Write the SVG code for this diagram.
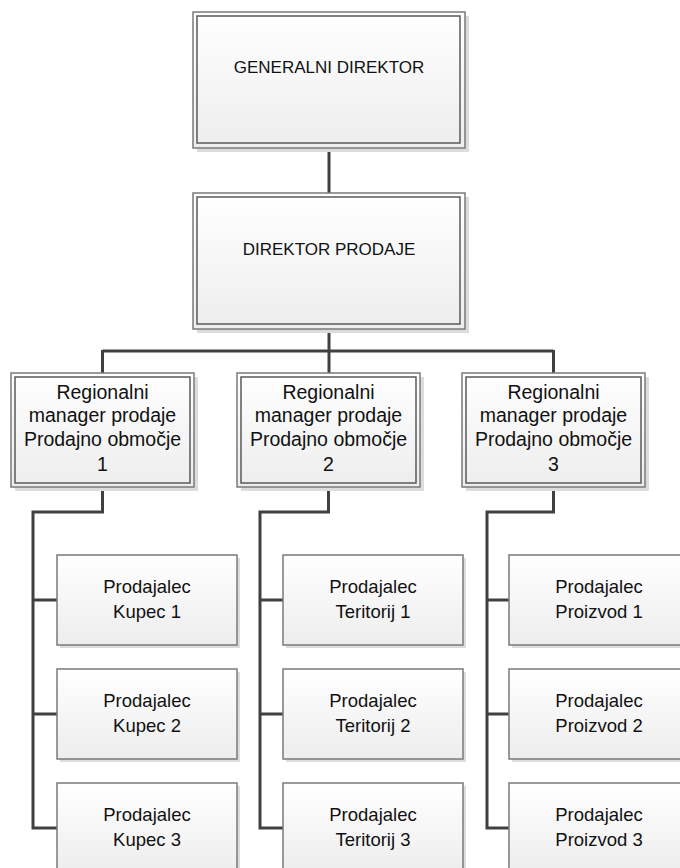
<svg xmlns="http://www.w3.org/2000/svg" width="680" height="868" viewBox="0 0 680 868">
  <defs>
    <linearGradient id="fillGrad" x1="0" y1="0" x2="0" y2="1">
      <stop offset="0" stop-color="#ffffff"/>
      <stop offset="1" stop-color="#ededed"/>
    </linearGradient>
    <style>
      .shadow { fill: #dcdcdc; }
      .outer { fill: url(#fillGrad); stroke: #7a7a7a; stroke-width: 1.5; }
      .inner { fill: none; stroke: #5a5a5a; stroke-width: 1.5; }
      .single { fill: url(#fillGrad); stroke: #7a7a7a; stroke-width: 1.5; }
      .conn { fill: none; stroke: #404040; stroke-width: 3; }
      .t { font-family: "Liberation Sans", Arial, sans-serif; fill: #111111; text-anchor: middle; }
      .t17 { font-size: 17px; }
      .t20 { font-size: 19.5px; }
      .t19 { font-size: 18.5px; }
    </style>
  </defs>
  <rect width="680" height="868" fill="#ffffff"/>

  <!-- connectors -->
  <g id="connectors">
    <path class="conn" d="M329 148 V193"/>
    <path class="conn" d="M329 329 V373"/>
    <path class="conn" d="M102.5 351 H553.5 M102.5 350 V373 M553.5 350 V373"/>
    <!-- column 1 -->
    <path class="conn" d="M102.5 487 V512 H33 V828 H57 M33 600 H57 M33 714 H57"/>
    <!-- column 2 -->
    <path class="conn" d="M328.5 487 V512 H260 V828 H283 M260 600 H283 M260 714 H283"/>
    <!-- column 3 -->
    <path class="conn" d="M553.5 487 V512 H487 V828 H509 M487 600 H509 M487 714 H509"/>
  </g>

  <!-- top level -->
  <g id="generalni-direktor">
    <rect class="shadow" x="197" y="16" width="272" height="136"/>
    <rect class="outer" x="193" y="12" width="272" height="136"/>
    <rect class="inner" x="197" y="16" width="263" height="127"/>
    <text class="t t17" x="329" y="73">GENERALNI DIREKTOR</text>
  </g>

  <g id="direktor-prodaje">
    <rect class="shadow" x="197" y="197" width="272" height="136"/>
    <rect class="outer" x="193" y="193" width="272" height="136"/>
    <rect class="inner" x="197" y="197" width="263" height="127"/>
    <text class="t t17" x="329" y="255">DIREKTOR PRODAJE</text>
  </g>

  <!-- regional managers -->
  <g id="regional-1">
    <rect class="shadow" x="15" y="377" width="183" height="114"/>
    <rect class="outer" x="11" y="373" width="183" height="114"/>
    <rect class="inner" x="15" y="377" width="175" height="106"/>
    <text class="t t20" x="102.5" y="399">Regionalni</text>
    <text class="t t20" x="102.5" y="422">manager prodaje</text>
    <text class="t t20" x="102.5" y="446">Prodajno območje</text>
    <text class="t t20" x="102.5" y="471">1</text>
  </g>

  <g id="regional-2">
    <rect class="shadow" x="241" y="377" width="183" height="114"/>
    <rect class="outer" x="237" y="373" width="183" height="114"/>
    <rect class="inner" x="241" y="377" width="175" height="106"/>
    <text class="t t20" x="328.5" y="399">Regionalni</text>
    <text class="t t20" x="328.5" y="422">manager prodaje</text>
    <text class="t t20" x="328.5" y="446">Prodajno območje</text>
    <text class="t t20" x="328.5" y="471">2</text>
  </g>

  <g id="regional-3">
    <rect class="shadow" x="466" y="377" width="183" height="114"/>
    <rect class="outer" x="462" y="373" width="183" height="114"/>
    <rect class="inner" x="466" y="377" width="175" height="106"/>
    <text class="t t20" x="553.5" y="399">Regionalni</text>
    <text class="t t20" x="553.5" y="422">manager prodaje</text>
    <text class="t t20" x="553.5" y="446">Prodajno območje</text>
    <text class="t t20" x="553.5" y="471">3</text>
  </g>

  <!-- sales representatives, column 1 -->
  <g id="kupec-1">
    <rect class="shadow" x="60" y="558" width="180" height="90"/>
    <rect class="single" x="57" y="555" width="180" height="90"/>
    <text class="t t19" x="147" y="593">Prodajalec</text>
    <text class="t t19" x="147" y="618">Kupec 1</text>
  </g>
  <g id="kupec-2">
    <rect class="shadow" x="60" y="672" width="180" height="90"/>
    <rect class="single" x="57" y="669" width="180" height="90"/>
    <text class="t t19" x="147" y="707">Prodajalec</text>
    <text class="t t19" x="147" y="732">Kupec 2</text>
  </g>
  <g id="kupec-3">
    <rect class="shadow" x="60" y="786" width="180" height="90"/>
    <rect class="single" x="57" y="783" width="180" height="90"/>
    <text class="t t19" x="147" y="821">Prodajalec</text>
    <text class="t t19" x="147" y="846">Kupec 3</text>
  </g>

  <!-- sales representatives, column 2 -->
  <g id="teritorij-1">
    <rect class="shadow" x="286" y="558" width="180" height="90"/>
    <rect class="single" x="283" y="555" width="180" height="90"/>
    <text class="t t19" x="373" y="593">Prodajalec</text>
    <text class="t t19" x="373" y="618">Teritorij 1</text>
  </g>
  <g id="teritorij-2">
    <rect class="shadow" x="286" y="672" width="180" height="90"/>
    <rect class="single" x="283" y="669" width="180" height="90"/>
    <text class="t t19" x="373" y="707">Prodajalec</text>
    <text class="t t19" x="373" y="732">Teritorij 2</text>
  </g>
  <g id="teritorij-3">
    <rect class="shadow" x="286" y="786" width="180" height="90"/>
    <rect class="single" x="283" y="783" width="180" height="90"/>
    <text class="t t19" x="373" y="821">Prodajalec</text>
    <text class="t t19" x="373" y="846">Teritorij 3</text>
  </g>

  <!-- sales representatives, column 3 -->
  <g id="proizvod-1">
    <rect class="shadow" x="512" y="558" width="180" height="90"/>
    <rect class="single" x="509" y="555" width="180" height="90"/>
    <text class="t t19" x="599" y="593">Prodajalec</text>
    <text class="t t19" x="599" y="618">Proizvod 1</text>
  </g>
  <g id="proizvod-2">
    <rect class="shadow" x="512" y="672" width="180" height="90"/>
    <rect class="single" x="509" y="669" width="180" height="90"/>
    <text class="t t19" x="599" y="707">Prodajalec</text>
    <text class="t t19" x="599" y="732">Proizvod 2</text>
  </g>
  <g id="proizvod-3">
    <rect class="shadow" x="512" y="786" width="180" height="90"/>
    <rect class="single" x="509" y="783" width="180" height="90"/>
    <text class="t t19" x="599" y="821">Prodajalec</text>
    <text class="t t19" x="599" y="846">Proizvod 3</text>
  </g>
</svg>
